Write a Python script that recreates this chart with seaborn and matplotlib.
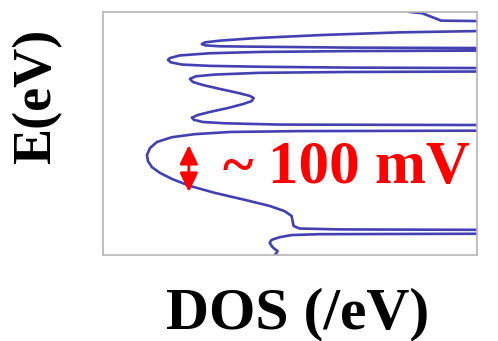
import pandas as pd
import matplotlib
matplotlib.use("Agg")
import matplotlib.pyplot as plt
import seaborn as sns

# DOS curve (tall peaks run past the right edge at 15)
dos = [12.28, 12.80, 13.16, 13.56, 15.0, 18.28,
       18.28, 15.0, 11.88, 8.8, 6.16, 4.68, 4.08, 3.96, 4.12, 4.68, 6.28, 9.88, 15.0, 18.28,
       18.28, 15.0, 9.88, 6.28, 4.28, 3.08, 2.68, 2.6, 2.72, 3.16, 4.28, 6.28, 9.88, 15.0, 18.28,
       18.28, 15.0, 9.88, 6.28, 4.48, 3.72, 3.48, 3.6, 4.0, 4.68, 5.4, 5.88, 6.04, 5.96,
       5.6, 5.0, 4.28, 3.8, 3.56, 3.64, 4.0, 4.88, 7.08, 15.0, 18.28,
       18.28, 15.0, 7.88, 5.08, 3.68, 2.76, 2.16, 1.88, 1.76, 1.8, 1.96, 2.28, 2.76,
       3.48, 4.48, 5.68, 6.68, 7.28, 7.56, 7.6, 7.64, 7.88, 9.48, 15.0, 18.28,
       18.28, 15.0, 8.68, 7.56, 7.08, 6.76, 6.68, 6.8, 7.0, 6.92, 6.84]
energy = [0.260, 0.257, 0.249, 0.240, 0.239, 0.238,
          0.218, 0.216, 0.213, 0.207, 0.200, 0.194, 0.190, 0.186, 0.183, 0.181, 0.180, 0.178, 0.177, 0.177,
          0.171, 0.171, 0.170, 0.168, 0.165, 0.160, 0.154, 0.150, 0.144, 0.139, 0.136, 0.134, 0.132, 0.131, 0.131,
          0.123, 0.123, 0.122, 0.120, 0.116, 0.112, 0.106, 0.099, 0.092, 0.083, 0.074, 0.067, 0.062, 0.055,
          0.048, 0.039, 0.030, 0.023, 0.017, 0.012, 0.007, 0.004, 0.001, 0.000, 0.000,
          -0.013, -0.013, -0.014, -0.016, -0.021, -0.028, -0.039, -0.053, -0.069, -0.083, -0.097, -0.110, -0.124,
          -0.140, -0.156, -0.172, -0.186, -0.198, -0.209, -0.221, -0.232, -0.238, -0.240, -0.241, -0.241,
          -0.250, -0.250, -0.251, -0.253, -0.258, -0.264, -0.271, -0.281, -0.290, -0.297, -0.301]

# gap marker: ~100 meV
gap_top = -0.046
gap_bottom = -0.154
gap_x = 3.44

df = pd.DataFrame({"DOS": dos, "E": energy})

sns.set_style("white")
fig = plt.figure(figsize=(4.98, 3.41), dpi=100)
ax = fig.add_axes([0.207, 0.252, 0.751, 0.713])

sns.lineplot(data=df, x="DOS", y="E", sort=False, estimator=None,
             color="#4340b2", lw=1.9, ax=ax)
ax.lines[0].set_solid_joinstyle("round")

ax.set_xlim(0, 15)
ax.set_ylim(-0.299, 0.26)
ax.set_xticks([])
ax.set_yticks([-0.115])
ax.set_yticklabels([])
ax.tick_params(axis="y", length=4, color="#999999", width=1)
ax.set_xlabel("")
ax.set_ylabel("")
for s in ax.spines.values():
    s.set_color("#b5b5b5")
    s.set_linewidth(1.2)

# double arrow and label
ax.annotate("", xy=(gap_x, gap_top), xytext=(gap_x, gap_bottom),
            arrowprops=dict(arrowstyle="<|-|>,head_length=1.15,head_width=0.55",
                            mutation_scale=10, color="red", lw=2,
                            shrinkA=0, shrinkB=0))
fig.text(223 / 498, 1 - 183 / 341, "~", color="red",
         family="Liberation Serif", weight="bold", fontsize=42,
         ha="left", va="baseline")
fig.text(268 / 498, 1 - 183 / 341, "100 mV", color="red",
         family="Liberation Serif", weight="bold", fontsize=44,
         ha="left", va="baseline")

fig.text(0.074, 0.718, "E(eV)", rotation=90, family="Liberation Serif",
         weight="bold", fontsize=39, color="black", ha="center", va="center")
fig.text(0.597, 0.038, "DOS (/eV)", family="Liberation Serif",
         weight="bold", fontsize=43, color="black", ha="center", va="baseline")

fig.savefig("out.png", dpi=100)
